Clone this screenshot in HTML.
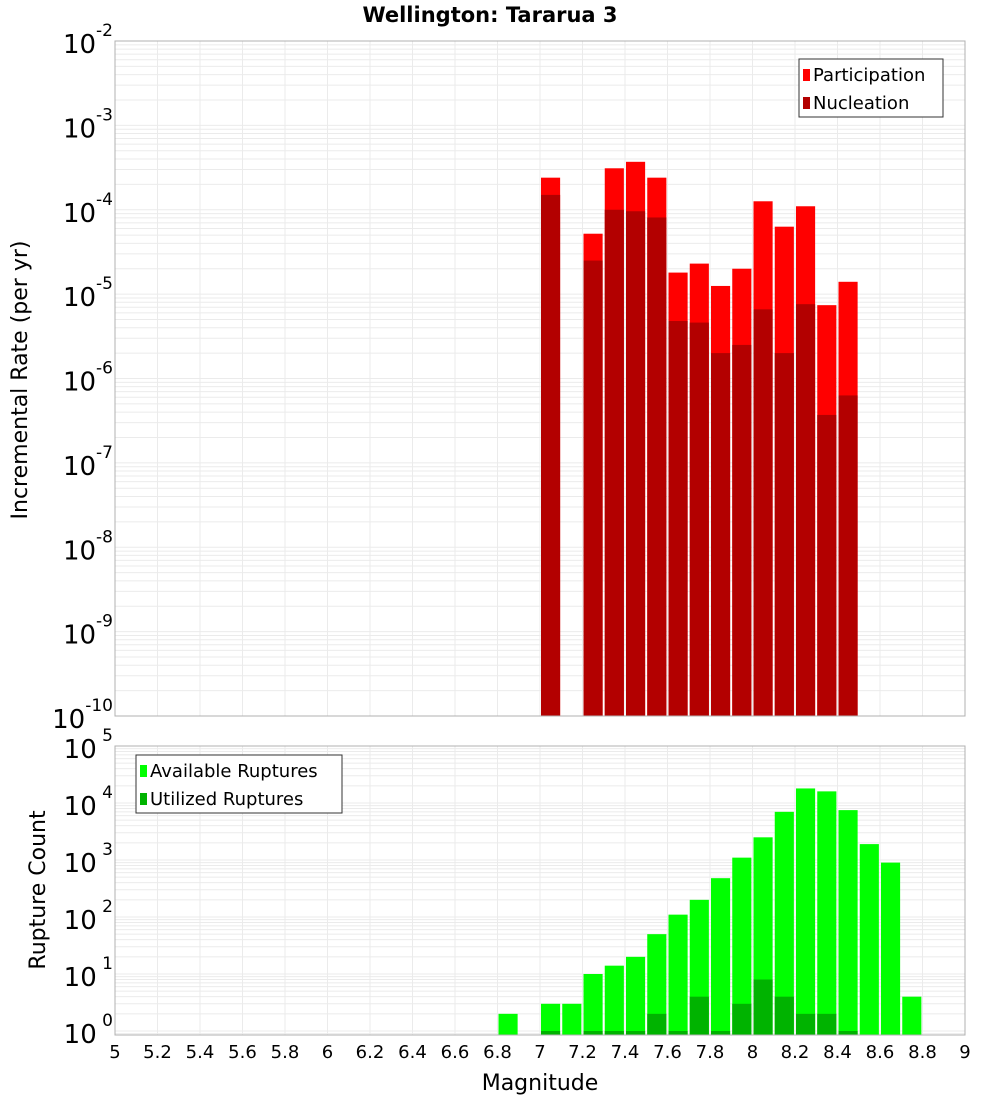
<!DOCTYPE html>
<html><head><meta charset="utf-8"><style>
body{margin:0;background:#fff;width:1000px;height:1100px;overflow:hidden}
svg{font-family:"DejaVu Sans","Liberation Sans",sans-serif}
</style></head><body>
<svg id="c" width="1000" height="1100"></svg>
<script>
const binCenters=[7.05,7.25,7.35,7.45,7.55,7.65,7.75,7.85,7.95,8.05,8.15,8.25,8.35,8.45];
const participation=[2.4e-4,5.2e-5,3.1e-4,3.7e-4,2.4e-4,1.8e-5,2.3e-5,1.25e-5,2.0e-5,1.26e-4,6.3e-5,1.1e-4,7.4e-6,1.4e-5];
const nucleation=[1.5e-4,2.5e-5,1.0e-4,9.6e-5,8.1e-5,4.8e-6,4.6e-6,2.0e-6,2.5e-6,6.6e-6,2.0e-6,7.6e-6,3.7e-7,6.3e-7];
const countCenters=[6.85,7.05,7.15,7.25,7.35,7.45,7.55,7.65,7.75,7.85,7.95,8.05,8.15,8.25,8.35,8.45,8.55,8.65,8.75];
const available=[2,3,3,10,14,20,50,110,200,480,1100,2500,7000,18000,16000,7500,1900,900,4];
const utilized=[0,1,0,1,1,1,2,1,4,1,3,8,4,2,2,1,0,0,0];
const xTicks=[5,5.2,5.4,5.6,5.8,6,6.2,6.4,6.6,6.8,7,7.2,7.4,7.6,7.8,8,8.2,8.4,8.6,8.8,9];
const topExps=[-2,-3,-4,-5,-6,-7,-8,-9,-10];
const botExps=[5,4,3,2,1,0];

const NS="http://www.w3.org/2000/svg",svg=document.getElementById('c');
function el(t,a,p){const e=document.createElementNS(NS,t);for(const k in a)e.setAttribute(k,a[k]);(p||svg).appendChild(e);return e;}
const X0=115,X1=965;
const x=v=>X0+(v-5)/4*(X1-X0);
const T0=41,T1=716,yT=v=>T0+(-2-Math.log10(v))/8*(T1-T0);
const B0=746,B1=1035,yB=v=>B0+(5-Math.log10(v))*57;

function grid(top,bot,yf,hiExp,loExp){
  const g=el('g',{});
  for(let e=loExp;e<hiExp;e++)for(let m=1;m<10;m++){const yy=yf(m*Math.pow(10,e));if(yy>=top&&yy<=bot)el('line',{x1:X0,x2:X1,y1:yy,y2:yy,stroke:'#ebebeb','stroke-width':1},g);}
  xTicks.forEach(t=>el('line',{x1:x(t),x2:x(t),y1:top,y2:bot,stroke:'#ebebeb','stroke-width':1},g));
}
grid(T0,T1,yT,-2,-11);grid(B0,B1,yB,5,-1);

// top bars
binCenters.forEach((c,i)=>{
  let r=el('rect',{x:x(c-0.05)+1,y:yT(participation[i]),width:x(0.09)-x(0)-0,height:T1-yT(participation[i]),fill:'#ff0000'});
  
  r=el('rect',{x:x(c-0.05)+1,y:yT(nucleation[i]),width:x(0.09)-x(0),height:T1-yT(nucleation[i]),fill:'#b30000'});
  
});
countCenters.forEach((c,i)=>{
  let r=el('rect',{x:x(c-0.05)+1,y:yB(available[i]),width:x(0.09)-x(0),height:B1-yB(available[i]),fill:'#00ff00'});
  
  if(utilized[i]>0){r=el('rect',{x:x(c-0.05)+1,y:yB(utilized[i]),width:x(0.09)-x(0),height:B1-yB(utilized[i]),fill:'#00b300'});
  }
});
el('rect',{x:X0,y:T0,width:X1-X0,height:T1-T0,fill:'none',stroke:'#b0b0b0'});
el('rect',{x:X0,y:B0,width:X1-X0,height:B1-B0,fill:'none',stroke:'#b0b0b0'});

function ylab(yy,e,name){
  const t=el('text',{x:113,y:yy+12,'text-anchor':'end','font-size':26,fill:'#000'});
  
  t.textContent='10';
  const s=el('tspan',{dy:-17,'font-size':17},t);s.textContent=(e<0?'-':' ')+Math.abs(e);
}
topExps.forEach(e=>ylab(yT(Math.pow(10,e)),e,'y-tick-top'));
botExps.forEach(e=>ylab(yB(Math.pow(10,e)),e,'y-tick-bottom'));
xTicks.forEach(t=>{const l=el('text',{x:x(t),y:1058,'text-anchor':'middle','font-size':18});l.textContent=String(t);
  });

function txt(s,a,name){const t=el('text',a);t.textContent=s;return t;}
txt('Wellington: Tararua 3',{x:490,y:22,'text-anchor':'middle','font-size':21,'font-weight':'bold'},'chart-title');
txt('Magnitude',{x:540,y:1090,'text-anchor':'middle','font-size':22},'x-axis-title');
txt('Incremental Rate (per yr)',{x:0,y:0,transform:'translate(27,380) rotate(-90)','text-anchor':'middle','font-size':22},'y-axis-title-top');
txt('Rupture Count',{x:0,y:0,transform:'translate(45,890) rotate(-90)','text-anchor':'middle','font-size':22},'y-axis-title-bottom');

function legend(x0,y0,w,items,name){
  const g=el('g',{});
  el('rect',{x:x0,y:y0,width:w,height:58,fill:'#fff',stroke:'#333'},g);
  items.forEach((it,i)=>{el('rect',{x:x0+4,y:y0+10+i*28,width:7,height:12,fill:it[1]},g);
    const t=el('text',{x:x0+14,y:y0+22+i*28,'font-size':18},g);t.textContent=it[0];});
}
legend(799,59,144,[['Participation','#ff0000'],['Nucleation','#b30000']],'legend-top');
legend(136,755,206,[['Available Ruptures','#00ff00'],['Utilized Ruptures','#00b300']],'legend-bottom');
</script>
</body></html>
